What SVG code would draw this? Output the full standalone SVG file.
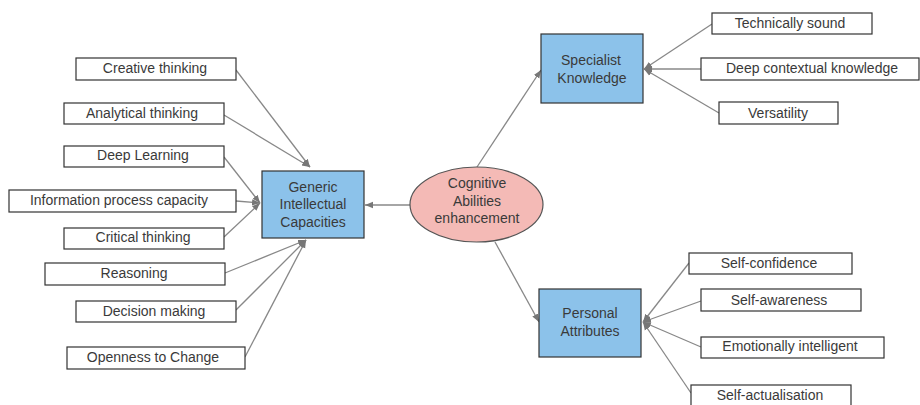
<svg xmlns="http://www.w3.org/2000/svg" width="920" height="405" viewBox="0 0 920 405">
<defs>
<marker id="ah" viewBox="0 0 10 10" refX="10" refY="5" markerWidth="8" markerHeight="8" markerUnits="userSpaceOnUse" orient="auto">
<path d="M0,1 L10,5 L0,9 Z" fill="#777"/>
</marker>
<style>
.leaf{fill:#fff;stroke:#333;stroke-width:1.2}
.main{fill:#8cc2ea;stroke:#333;stroke-width:1.2}
.root{fill:#f4bab6;stroke:#555;stroke-width:1.2}
text{font-family:"Liberation Sans",Arial,sans-serif;font-size:14px;fill:#3a3a3a;text-anchor:middle}
.con line{stroke:#888;stroke-width:1.3;marker-end:url(#ah)}
</style>
</defs>
<rect width="920" height="405" fill="#fff"/>
<g class="con" id="connectors">
<line x1="236" y1="70" x2="310" y2="167"/>
<line x1="224" y1="115" x2="310" y2="167"/>
<line x1="224" y1="157" x2="260" y2="203"/>
<line x1="236" y1="201" x2="260" y2="203"/>
<line x1="224" y1="237" x2="260" y2="203"/>
<line x1="225" y1="273" x2="306" y2="240"/>
<line x1="236" y1="310" x2="306" y2="240"/>
<line x1="245" y1="357" x2="306" y2="240"/>
<line x1="410" y1="205" x2="365" y2="205"/>
<line x1="477" y1="167" x2="541" y2="70"/>
<line x1="495" y1="242" x2="539" y2="322"/>
<line x1="712" y1="24" x2="644" y2="69"/>
<line x1="701" y1="69" x2="644" y2="69"/>
<line x1="719" y1="113" x2="644" y2="69"/>
<line x1="689" y1="263" x2="643" y2="322"/>
<line x1="701" y1="301" x2="643" y2="322"/>
<line x1="701" y1="347" x2="643" y2="322"/>
<line x1="691" y1="393" x2="643" y2="322"/>
</g>
<g id="creative"><rect class="leaf" x="76" y="58" width="160" height="22"/><text x="155" y="73">Creative thinking</text></g>
<g id="analytical"><rect class="leaf" x="64" y="103" width="160" height="21"/><text x="142" y="118">Analytical thinking</text></g>
<g id="deeplearning"><rect class="leaf" x="64" y="146" width="160" height="21"/><text x="143" y="160">Deep Learning</text></g>
<g id="infoproc"><rect class="leaf" x="9" y="190" width="227" height="22"/><text x="119" y="205">Information process capacity</text></g>
<g id="critical"><rect class="leaf" x="64" y="228" width="160" height="21"/><text x="143" y="242">Critical thinking</text></g>
<g id="reasoning"><rect class="leaf" x="45" y="263" width="180" height="22"/><text x="134" y="278">Reasoning</text></g>
<g id="decision"><rect class="leaf" x="76" y="301" width="160" height="21"/><text x="154" y="316">Decision making</text></g>
<g id="openness"><rect class="leaf" x="67" y="347" width="178" height="22"/><text x="153" y="362">Openness to Change</text></g>
<g id="generic"><rect class="main" x="262" y="171" width="102" height="67"/><text x="313" y="192">Generic</text><text x="313" y="209">Intellectual</text><text x="313" y="227">Capacities</text></g>
<g id="root"><ellipse class="root" cx="476.5" cy="204.5" rx="66.5" ry="37.5"/><text x="477" y="188">Cognitive</text><text x="477" y="206">Abilities</text><text x="477" y="223">enhancement</text></g>
<g id="specialist"><rect class="main" x="541" y="34" width="102" height="69"/><text x="591" y="65">Specialist</text><text x="592" y="83">Knowledge</text></g>
<g id="technical"><rect class="leaf" x="712" y="13" width="160" height="21"/><text x="790" y="28">Technically sound</text></g>
<g id="deepcontext"><rect class="leaf" x="701" y="58" width="218" height="22"/><text x="812" y="73">Deep contextual knowledge</text></g>
<g id="versatility"><rect class="leaf" x="719" y="102" width="119" height="22"/><text x="778" y="118">Versatility</text></g>
<g id="personal"><rect class="main" x="539" y="289" width="102" height="68"/><text x="590" y="318">Personal</text><text x="590" y="336">Attributes</text></g>
<g id="selfconf"><rect class="leaf" x="689" y="253" width="163" height="21"/><text x="769" y="268">Self-confidence</text></g>
<g id="selfaware"><rect class="leaf" x="701" y="289" width="160" height="22"/><text x="779" y="305">Self-awareness</text></g>
<g id="emotional"><rect class="leaf" x="701" y="337" width="183" height="21"/><text x="790" y="351">Emotionally intelligent</text></g>
<g id="selfact"><rect class="leaf" x="691" y="385" width="160" height="30"/><text x="770" y="400">Self-actualisation</text></g>
</svg>
